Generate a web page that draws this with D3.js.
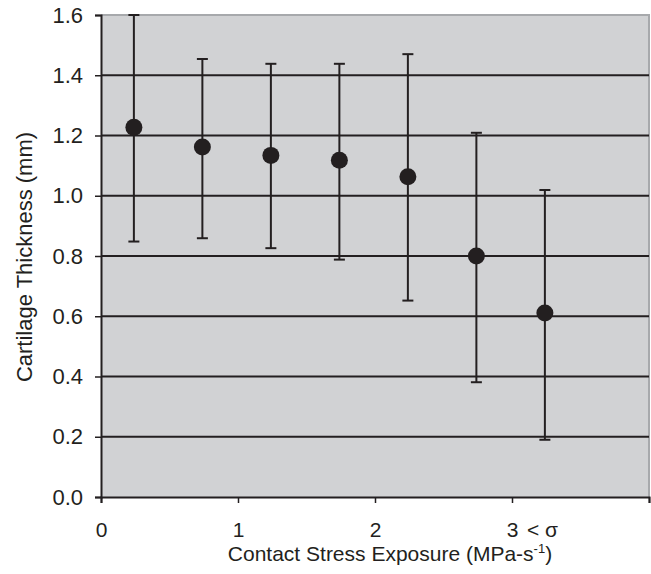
<!DOCTYPE html>
<html>
<head>
<meta charset="utf-8">
<script src="https://cdn.jsdelivr.net/npm/d3@7"></script>
<style>
  html, body { margin: 0; padding: 0; background: #ffffff; }
  svg { display: block; }
  text { font-family: "Liberation Sans", Arial, sans-serif; fill: #231f20; }
</style>
</head>
<body>
<svg id="chart" width="651" height="574"></svg>
<script>
// ---- data ----
const exposure = [0.24, 0.74, 1.24, 1.74, 2.24, 2.74, 3.24];
const thickness = [1.227, 1.162, 1.134, 1.118, 1.063, 0.800, 0.611];
const upper = [1.600, 1.454, 1.438, 1.438, 1.470, 1.209, 1.019];
const lower = [0.848, 0.859, 0.826, 0.788, 0.652, 0.381, 0.190];
const yTicks = [0.0, 0.2, 0.4, 0.6, 0.8, 1.0, 1.2, 1.4, 1.6];
const xTicks = [0, 1, 2, 3, 4];
const xTickLabels = ["0", "1", "2", "3", ""];
const sigmaNote = "< σ";
const xTitle = "Contact Stress Exposure (MPa-s";
const xTitleSup = "-1";
const yTitle = "Cartilage Thickness (mm)";

const svg = d3.select("#chart");
const mLeft = 101, mRight = 649, mTop = 15, mBottom = 497;
const ink = "#231f20";

const x = d3.scaleLinear().domain([0, 4]).range([mLeft, mRight]);
const y = d3.scaleLinear().domain([0, 1.6]).range([mBottom, mTop]);

// plot background
svg.append("rect")
  .attr("x", mLeft).attr("y", mTop)
  .attr("width", mRight - mLeft).attr("height", mBottom - mTop)
  .attr("fill", "#d1d2d4");

// top/right light border
svg.append("path")
  .attr("d", `M${mLeft},${mTop}H${mRight}V${mBottom}`)
  .attr("fill", "none").attr("stroke", "#a7a9ac").attr("stroke-width", 2);

// gridlines
svg.append("g").selectAll("line")
  .data(yTicks.filter(d => d > 0 && d < 1.6))
  .join("line")
  .attr("x1", mLeft).attr("x2", mRight)
  .attr("y1", d => y(d)).attr("y2", d => y(d))
  .attr("stroke", ink).attr("stroke-width", 2);

// y axis
const yAxis = d3.axisLeft(y).tickValues(yTicks).tickFormat(d3.format(".1f"))
  .tickSize(6).tickPadding(12);
const gy = svg.append("g").attr("transform", `translate(${mLeft},0)`).call(yAxis);
gy.attr("font-size", null).attr("font-family", null);
gy.select(".domain").attr("stroke", ink).attr("stroke-width", 2);
gy.selectAll(".tick line").attr("stroke", ink).attr("stroke-width", 1.5);
gy.selectAll(".tick text").style("font-size", "22px").style("fill", ink);

// x axis
const xAxis = d3.axisBottom(x).tickValues(xTicks).tickFormat((d, i) => xTickLabels[i])
  .tickSize(6).tickPadding(19);
const gx = svg.append("g").attr("transform", `translate(0,${mBottom})`).call(xAxis);
gx.attr("font-size", null).attr("font-family", null);
gx.select(".domain").attr("stroke", ink).attr("stroke-width", 2);
gx.selectAll(".tick line").attr("stroke", ink).attr("stroke-width", 1.5);
gx.selectAll(".tick text").style("font-size", "21px").style("fill", ink);

// "< σ" marker after 3
svg.append("text")
  .attr("x", x(3) + 15).attr("y", 537)
  .style("font-size", "21px")
  .text(sigmaNote);

// error bars
const eb = svg.append("g");
eb.selectAll("line.stem").data(exposure).join("line").attr("class", "stem")
  .attr("x1", d => x(d)).attr("x2", d => x(d))
  .attr("y1", (d, i) => y(upper[i])).attr("y2", (d, i) => y(lower[i]))
  .attr("stroke", ink).attr("stroke-width", 2);
eb.selectAll("line.capU").data(exposure).join("line").attr("class", "capU")
  .attr("x1", d => x(d) - 5.5).attr("x2", d => x(d) + 5.5)
  .attr("y1", (d, i) => y(upper[i])).attr("y2", (d, i) => y(upper[i]))
  .attr("stroke", ink).attr("stroke-width", 2);
eb.selectAll("line.capL").data(exposure).join("line").attr("class", "capL")
  .attr("x1", d => x(d) - 5.5).attr("x2", d => x(d) + 5.5)
  .attr("y1", (d, i) => y(lower[i])).attr("y2", (d, i) => y(lower[i]))
  .attr("stroke", ink).attr("stroke-width", 2);

// points
svg.append("g").selectAll("circle").data(exposure).join("circle")
  .attr("cx", d => x(d)).attr("cy", (d, i) => y(thickness[i]))
  .attr("r", 8.5).attr("fill", ink);

// x title
const xt = svg.append("text")
  .attr("x", 390).attr("y", 561)
  .attr("text-anchor", "middle").style("font-size", "21px");
xt.append("tspan").text(xTitle);
xt.append("tspan").style("font-size", "13px").attr("dy", -8).text(xTitleSup);
xt.append("tspan").attr("dy", 8).text(")");

// y title
svg.append("text")
  .attr("transform", `translate(32,${(mTop + mBottom) / 2 + 1}) rotate(-90)`)
  .attr("text-anchor", "middle").style("font-size", "22px")
  .text(yTitle);
</script>
</body>
</html>
